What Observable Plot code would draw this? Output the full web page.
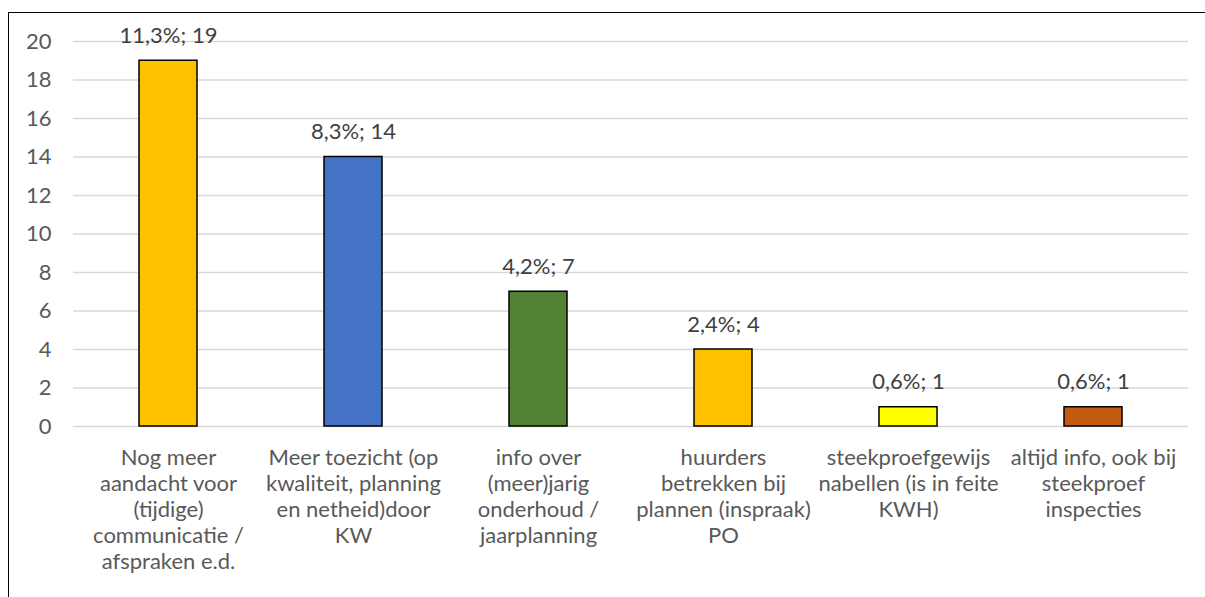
<!DOCTYPE html>
<html>
<head>
<meta charset="utf-8">
<script src="https://cdn.jsdelivr.net/npm/d3@7"></script>
<script src="https://cdn.jsdelivr.net/npm/@observablehq/plot@0.6"></script>
<style>
  html, body { margin: 0; padding: 0; background: #fff; }
  #wrap { position: relative; width: 1205px; height: 597px; overflow: hidden; }
  #frame { position: absolute; left: 8px; top: 12px; width: 1400px; height: 800px;
           border: 1.5px solid #000; pointer-events: none; box-sizing: border-box; }
</style>
</head>
<body>
<div id="wrap"><div id="frame"></div></div>
<script>
// Answer categories (wrapped as they appear under the axis)
const categories = [
  "Nog meer\naandacht voor\n(tijdige)\ncommunicatie /\nafspraken e.d.",
  "Meer toezicht (op\nkwaliteit, planning\nen netheid)door\nKW",
  "info over\n(meer)jarig\nonderhoud /\njaarplanning",
  "huurders\nbetrekken bij\nplannen (inspraak)\nPO",
  "steekproefgewijs\nnabellen (is in feite\nKWH)",
  "altijd info, ook bij\nsteekproef\ninspecties"
];
const counts = [19, 14, 7, 4, 1, 1];
const percents = ["11,3%", "8,3%", "4,2%", "2,4%", "0,6%", "0,6%"];
const barColors = ["#FFC000", "#4472C4", "#548235", "#FFC000", "#FFFF00", "#C55A11"];
const yTicks = [0, 2, 4, 6, 8, 10, 12, 14, 16, 18, 20];

const data = categories.map((c, i) => ({
  category: c,
  count: counts[i],
  label: `${percents[i]}; ${counts[i]}`,
  color: barColors[i]
}));

const chart = Plot.plot({
  width: 1205,
  height: 597,
  marginLeft: 73,
  marginRight: 17,
  marginTop: 41,
  marginBottom: 171,
  style: { fontFamily: "Lato, sans-serif", fontSize: "22px", color: "#595959", background: "transparent" },
  x: { domain: categories, paddingInner: 0.688, paddingOuter: 0.344, label: null },
  y: { domain: [0, 20], ticks: yTicks, label: null },
  marks: [
    Plot.gridY(yTicks, { stroke: "#D9D9D9", strokeOpacity: 1, strokeWidth: 1.5 }),
    Plot.axisY(yTicks, { tickSize: 0, tickPadding: 22, fontSize: 22, fill: "#595959", label: null }),
    Plot.axisX({ tickSize: 0, tickPadding: 20, fontSize: 22, fill: "#595959", lineHeight: 1.18, label: null }),
    Plot.barY(data, { x: "category", y: "count", fill: "color", stroke: "#000", strokeWidth: 1.5 }),
    Plot.text(data, { x: "category", y: "count", text: "label", dy: -25, fontSize: 22, fill: "#404040" })
  ]
});

document.getElementById("wrap").prepend(chart);
</script>
</body>
</html>
